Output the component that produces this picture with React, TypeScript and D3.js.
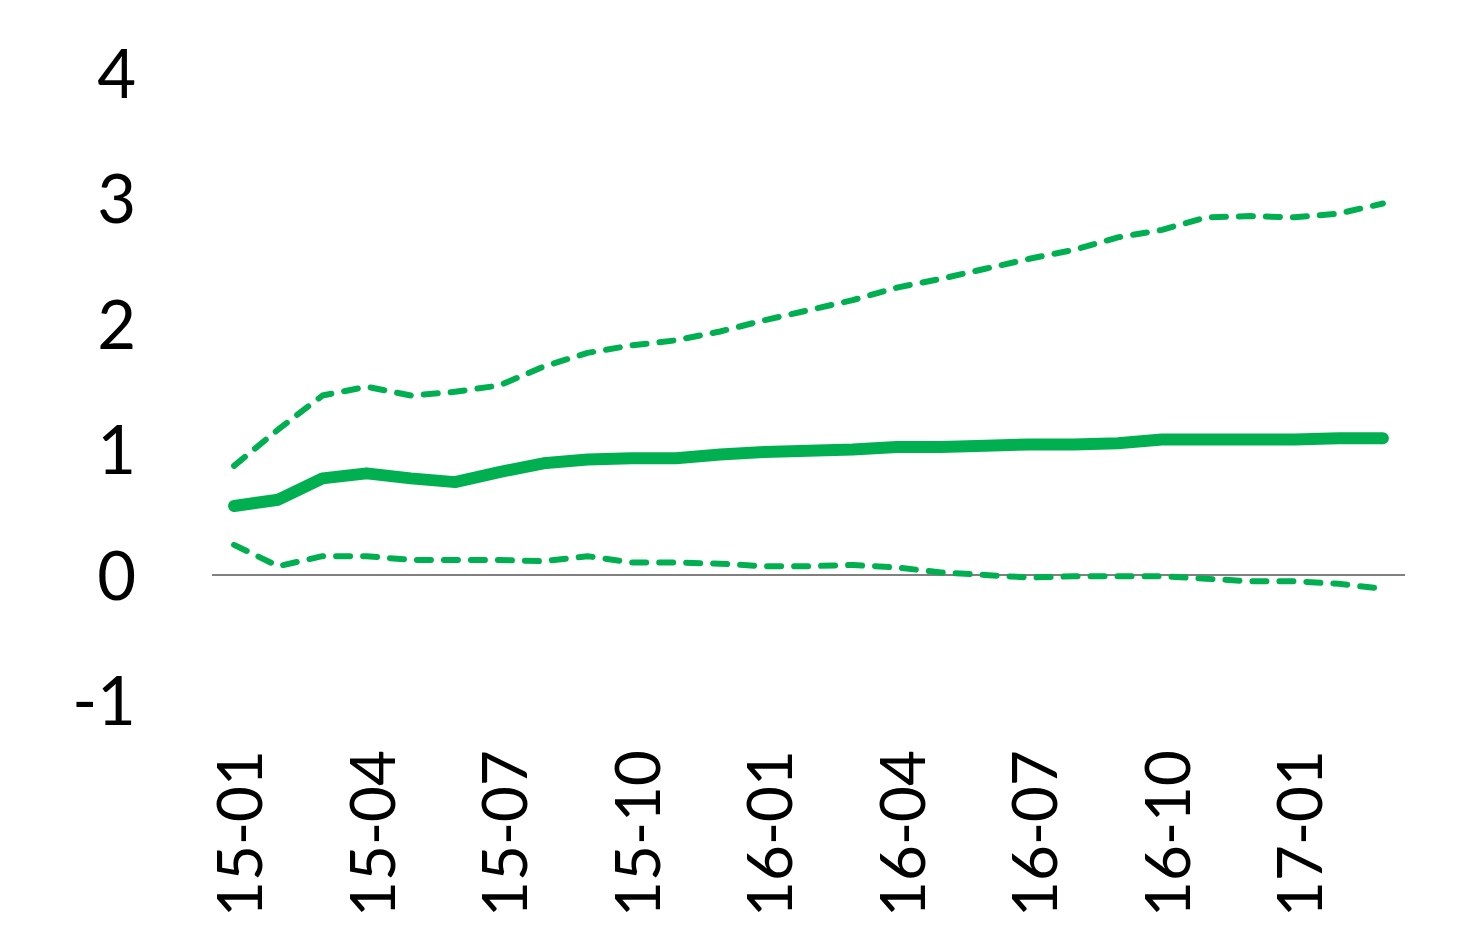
import React, { useRef, useEffect } from "react";
import { select, scaleBand, scaleLinear, axisLeft, axisBottom, line } from "d3";

const months = [
  "15-01", "15-02", "15-03", "15-04", "15-05", "15-06", "15-07", "15-08", "15-09",
  "15-10", "15-11", "15-12", "16-01", "16-02", "16-03", "16-04", "16-05", "16-06",
  "16-07", "16-08", "16-09", "16-10", "16-11", "16-12", "17-01", "17-02", "17-03",
];
const central = [
  0.55, 0.6, 0.77, 0.81, 0.77, 0.74, 0.82, 0.89, 0.92, 0.93, 0.93, 0.96, 0.98, 0.99,
  1.0, 1.02, 1.02, 1.03, 1.04, 1.04, 1.05, 1.08, 1.08, 1.08, 1.08, 1.09, 1.09,
];
const upper = [
  0.87, 1.16, 1.43, 1.5, 1.43, 1.46, 1.51, 1.66, 1.77, 1.83, 1.87, 1.94, 2.03, 2.11,
  2.19, 2.29, 2.36, 2.44, 2.52, 2.59, 2.69, 2.75, 2.85, 2.86, 2.85, 2.88, 2.96,
];
const lower = [
  0.24, 0.07, 0.15, 0.15, 0.12, 0.12, 0.12, 0.11, 0.15, 0.1, 0.1, 0.09, 0.07, 0.07,
  0.08, 0.06, 0.02, 0.0, -0.02, -0.01, -0.01, -0.01, -0.03, -0.05, -0.05, -0.07, -0.11,
];
const yTicks = [-1, 0, 1, 2, 3, 4];
const xTickLabels = ["15-01", "15-04", "15-07", "15-10", "16-01", "16-04", "16-07", "16-10", "17-01"];

const GREEN = "#00B050";
const FONT = "Lato, 'Open Sans', sans-serif";

const App = () => {
  const svgRef = useRef<SVGSVGElement>(null);

  useEffect(() => {
    const svg = select(svgRef.current);
    svg.selectAll("*").remove();

    const x = scaleBand().domain(months).range([212, 1405]);
    const y = scaleLinear().domain([-1, 4]).range([700.5, 73]);
    const cx = (i: number) => (x(months[i]) as number) + x.bandwidth() / 2;

    // y axis labels
    const yAxis = svg
      .append("g")
      .attr("transform", "translate(136,0)")
      .call(axisLeft(y).tickValues(yTicks).tickSize(0).tickPadding(0).tickFormat((d) => String(d)));
    yAxis.select(".domain").remove();
    yAxis
      .selectAll("text")
      .attr("font-family", FONT)
      .attr("font-size", 67)
      .attr("fill", "#000")
      .attr("dy", "0.36em");

    // x axis labels
    const xAxis = svg
      .append("g")
      .attr("transform", "translate(0,750)")
      .call(axisBottom(x).tickValues(xTickLabels).tickSize(0).tickPadding(0));
    xAxis.select(".domain").remove();
    xAxis
      .selectAll("text")
      .attr("font-family", FONT)
      .attr("font-size", 62)
      .attr("fill", "#000")
      .attr("transform", "rotate(-90)")
      .attr("text-anchor", "end")
      .attr("x", 0)
      .attr("y", 0)
      .attr("dy", "0.45em");

    // zero line
    svg
      .append("line")
      .attr("x1", 212)
      .attr("x2", 1405)
      .attr("y1", y(0))
      .attr("y2", y(0))
      .attr("stroke", "#808080")
      .attr("stroke-width", 2);

    const gen = line<number>()
      .x((d, i) => cx(i))
      .y((d) => y(d));

    [upper, lower].forEach((s) => {
      svg
        .append("path")
        .attr("d", gen(s))
        .attr("fill", "none")
        .attr("stroke", GREEN)
        .attr("stroke-width", 6)
        .attr("stroke-linecap", "round")
        .attr("stroke-linejoin", "round")
        .attr("stroke-dasharray", "14 13");
    });

    svg
      .append("path")
      .attr("d", gen(central))
      .attr("fill", "none")
      .attr("stroke", GREEN)
      .attr("stroke-width", 12)
      .attr("stroke-linecap", "round")
      .attr("stroke-linejoin", "round");
  }, []);

  return (
    <svg
      ref={svgRef}
      width={1478}
      height={948}
      style={{ position: "absolute", left: 0, top: 0, background: "#fff" }}
    />
  );
};

export default App;
